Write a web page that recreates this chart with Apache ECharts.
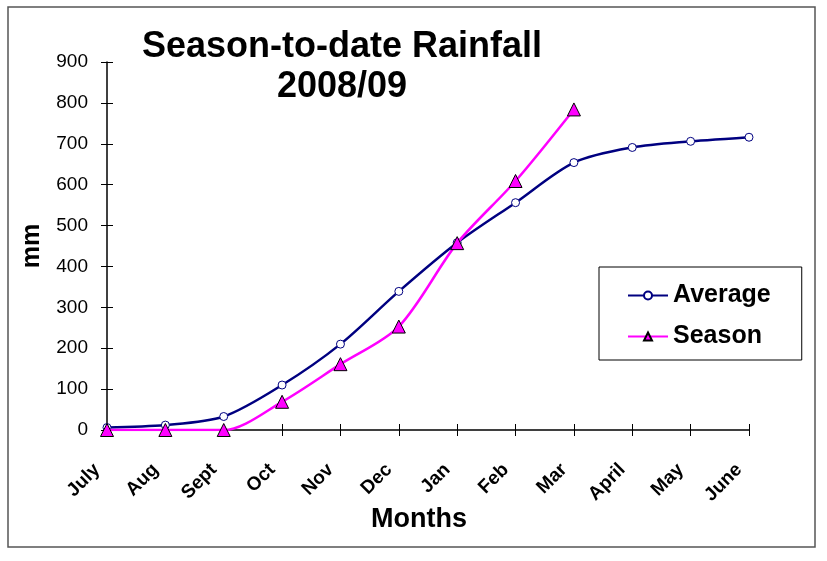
<!DOCTYPE html>
<html>
<head>
<meta charset="utf-8">
<script src="https://cdn.jsdelivr.net/npm/echarts@6/dist/echarts.min.js"></script>
<style>
  html, body { margin: 0; padding: 0; background: #fff; }
  #chart { width: 827px; height: 561px; }
</style>
</head>
<body>
<div id="chart"></div>
<script>
// Month labels along the season (July to June)
const months = ['July', 'Aug', 'Sept', 'Oct', 'Nov', 'Dec', 'Jan', 'Feb', 'Mar', 'April', 'May', 'June'];
// Long-term average cumulative rainfall, mm
const averageRain = [6, 12, 33, 110, 210, 339, 458, 556, 654, 691, 706, 716];
// This season's cumulative rainfall, mm (up to March)
const seasonRain = [0, 0, 0, 69, 161, 253, 457, 609, 784];

const yTicks = { min: 0, max: 900, interval: 100 };

const chart = echarts.init(document.getElementById('chart'));
const font = 'Arial, "Liberation Sans", sans-serif';

const option = {
    animation: false,
    textStyle: { fontFamily: font },
    graphic: [
        {
            type: 'rect',
            shape: { x: 8, y: 7, width: 807, height: 540 },
            style: { fill: 'none', stroke: '#555', lineWidth: 1.5 },
            silent: true
        },
        {
            type: 'text',
            x: 342, y: 29,
            style: { text: 'Season-to-date Rainfall', font: 'bold 36px ' + font, fill: '#000', align: 'center' }
        },
        {
            type: 'text',
            x: 342, y: 69,
            style: { text: '2008/09', font: 'bold 36px ' + font, fill: '#000', align: 'center' }
        }
    ],
    grid: { left: 107, right: 78, top: 62, bottom: 131 },
    legend: {
        orient: 'vertical',
        left: 599, top: 267,
        padding: [16, 31, 11, 28],
        itemGap: 16,
        itemWidth: 40,
        itemHeight: 10,
        borderColor: '#000',
        borderWidth: 1,
        textStyle: { fontSize: 25, fontWeight: 'bold', color: '#000', fontFamily: font },
        data: ['Average', 'Season']
    },
    xAxis: [
        {
            type: 'category',
            data: months,
            boundaryGap: false,
            name: 'Months',
            nameLocation: 'middle',
            nameGap: 76,
            nameMoveOverlap: false,
            nameTextStyle: { fontSize: 27, fontWeight: 'bold', color: '#000', padding: [0, 18, 0, 0] },
            axisLine: { lineStyle: { color: '#000', width: 1.5 } },
            axisTick: { alignWithLabel: true, length: 6, lineStyle: { color: '#000' } },
            axisLabel: { rotate: 45, fontSize: 19, fontWeight: 'bold', color: '#000', margin: 27, padding: [0, 14, 0, 0], interval: 0 },
            splitLine: { show: false }
        },
        {
            type: 'category',
            data: months,
            boundaryGap: false,
            position: 'bottom',
            axisLine: { show: false },
            axisTick: { inside: true, length: 6, lineStyle: { color: '#000' } },
            axisLabel: { show: false },
            splitLine: { show: false }
        }
    ],
    yAxis: [
        {
            type: 'value',
            min: yTicks.min, max: yTicks.max, interval: yTicks.interval,
            name: 'mm',
            nameLocation: 'middle',
            nameGap: 62,
            nameMoveOverlap: false,
            nameRotate: 90,
            nameTextStyle: { fontSize: 25, fontWeight: 'bold', color: '#000' },
            axisLine: { show: true, lineStyle: { color: '#000', width: 1.5 } },
            axisTick: { show: true, length: 6, lineStyle: { color: '#000' } },
            axisLabel: { fontSize: 19, color: '#000', margin: 19 },
            splitLine: { show: false }
        },
        {
            type: 'value',
            min: yTicks.min, max: yTicks.max, interval: yTicks.interval,
            position: 'left',
            axisLine: { show: false },
            axisTick: { show: true, inside: true, length: 6, lineStyle: { color: '#000' } },
            axisLabel: { show: false },
            splitLine: { show: false }
        }
    ],
    series: [
        {
            name: 'Average',
            type: 'line',
            data: averageRain,
            smooth: 0.3,
            symbol: 'circle',
            symbolSize: 8,
            lineStyle: { color: '#000080', width: 2.5 },
            itemStyle: { color: '#fff', borderColor: '#000080', borderWidth: 1 },
            z: 3
        },
        {
            name: 'Season',
            type: 'line',
            data: seasonRain,
            smooth: 0.3,
            symbol: 'triangle',
            symbolSize: 13,
            lineStyle: { color: '#ff00ff', width: 2.5 },
            itemStyle: { color: '#ff00ff', borderColor: '#000', borderWidth: 1 },
            z: 4
        }
    ]
};

chart.setOption(option);
</script>
</body>
</html>
